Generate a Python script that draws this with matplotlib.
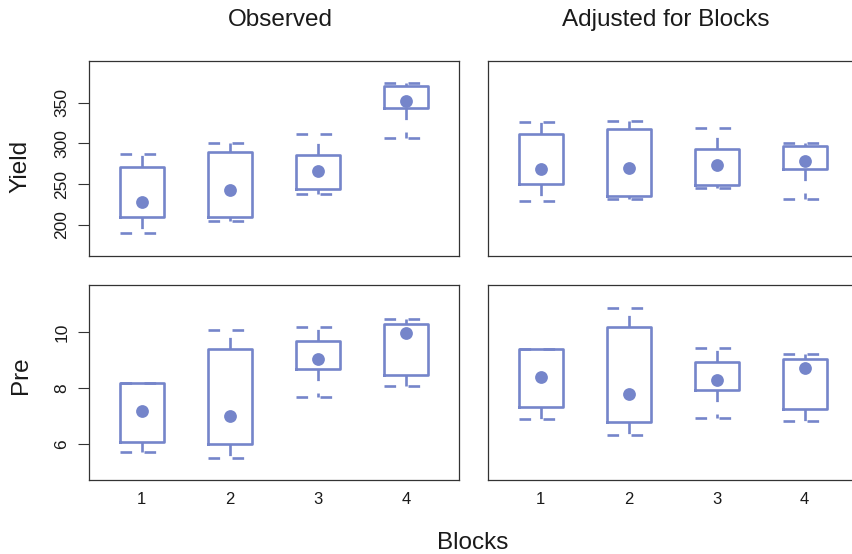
import matplotlib
matplotlib.use("Agg")
import matplotlib.pyplot as plt

plt.rcParams['font.family'] = ['Liberation Sans', 'DejaVu Sans']

W, H = 853, 554
blocks = [1, 2, 3, 4]
block_labels = ['1', '2', '3', '4']

# Yield, observed
yo_lo = [189.8, 205.3, 238.0, 306.3]
yo_q1 = [210.2, 210.2, 243.8, 343.1]
yo_med = [228.2, 242.9, 266.6, 352.1]
yo_q3 = [270.8, 289.5, 285.5, 370.5]
yo_hi = [286.7, 300.6, 311.6, 373.8]

# Yield, adjusted for blocks
ya_lo = [229.4, 232.3, 245.7, 232.3]
ya_q1 = [249.9, 235.6, 249.1, 269.0]
ya_med = [268.3, 270.3, 273.6, 278.1]
ya_q3 = [311.2, 317.4, 292.8, 296.5]
ya_hi = [326.7, 327.5, 318.6, 300.2]

# Pre, observed
po_lo = [5.69, 5.50, 7.69, 8.08]
po_q1 = [6.07, 5.99, 8.68, 8.47]
po_med = [7.18, 6.99, 9.04, 9.99]
po_q3 = [8.19, 9.39, 9.69, 10.30]
po_hi = [8.19, 10.08, 10.18, 10.48]

# Pre, adjusted for blocks
pa_lo = [6.90, 6.30, 6.93, 6.83]
pa_q1 = [7.31, 6.79, 7.93, 7.26]
pa_med = [8.39, 7.80, 8.29, 8.73]
pa_q3 = [9.39, 10.19, 8.93, 9.04]
pa_hi = [9.39, 10.88, 9.43, 9.23]

yield_ticks = [200, 250, 300, 350]
pre_ticks = [6, 8, 10]

COL = '#7585CA'
EDGE = '#333333'
LW = 1.9
DASH = (0, (4.4, 4.7))

fig = plt.figure(figsize=(W / 100, H / 100), dpi=100)

def px_ax(x0, y0, x1, y1):
    return fig.add_axes([x0 / W, 1 - y1 / H, (x1 - x0) / W, (y1 - y0) / H])

ax_tl = px_ax(89, 61, 459, 256)
ax_tr = px_ax(488, 61, 857.5, 256)
ax_bl = px_ax(89, 285, 459, 480.3)
ax_br = px_ax(488, 285, 857.5, 480.3)

def draw(ax, lo, q1, med, q3, hi):
    stats = []
    for i in range(len(blocks)):
        stats.append(dict(whislo=lo[i], q1=q1[i], med=med[i], q3=q3[i],
                          whishi=hi[i], fliers=[]))
    ax.bxp(stats, positions=blocks, widths=0.5, capwidths=0.5,
           showfliers=False, manage_ticks=False,
           boxprops=dict(color=COL, lw=LW),
           whiskerprops=dict(color=COL, lw=LW, linestyle=DASH,
                             dash_capstyle='butt'),
           capprops=dict(color=COL, lw=LW, linestyle=DASH,
                         dash_capstyle='butt'),
           medianprops=dict(visible=False))
    ax.plot(blocks, med, 'o', color=COL, ms=9.2, mew=0, zorder=5)
    ax.set_xlim(0.4, 4.6)
    for s in ax.spines.values():
        s.set_color(EDGE)
        s.set_linewidth(0.9)

draw(ax_tl, yo_lo, yo_q1, yo_med, yo_q3, yo_hi)
draw(ax_tr, ya_lo, ya_q1, ya_med, ya_q3, ya_hi)
draw(ax_bl, po_lo, po_q1, po_med, po_q3, po_hi)
draw(ax_br, pa_lo, pa_q1, pa_med, pa_q3, pa_hi)

for ax in (ax_tl, ax_tr):
    ax.set_ylim(162.0, 401.1)
for ax in (ax_bl, ax_br):
    ax.set_ylim(4.69, 11.70)

for ax in (ax_tl, ax_tr):
    ax.set_xticks([])
for ax in (ax_tr, ax_br):
    ax.set_yticks([])

ax_tl.set_yticks(yield_ticks)
ax_tl.set_yticklabels([str(t) for t in yield_ticks], rotation=90, va='center')
ax_bl.set_yticks(pre_ticks)
ax_bl.set_yticklabels([str(t) for t in pre_ticks], rotation=90, va='center')
for ax in (ax_tl, ax_bl):
    ax.tick_params(axis='y', length=8, width=0.8, color=EDGE, pad=6,
                   labelsize=12.5, labelcolor='#1a1a1a')

for ax in (ax_bl, ax_br):
    ax.set_xticks(blocks)
    ax.set_xticklabels(block_labels)
    ax.tick_params(axis='x', length=0, pad=8.5, labelsize=12,
                   labelcolor='#1a1a1a')

TS = 17.5
fig.text(280.5 / W, 1 - 26 / H, 'Observed', ha='center', va='baseline',
         fontsize=TS, color='#1a1a1a')
fig.text(665.8 / W, 1 - 26 / H, 'Adjusted for Blocks', ha='center',
         va='baseline', fontsize=TS, color='#1a1a1a')
fig.text(26.7 / W, 1 - 166 / H, 'Yield', ha='center', va='baseline',
         rotation=90, rotation_mode='anchor', fontsize=TS, color='#1a1a1a')
fig.text(26.7 / W, 1 - 375 / H, 'Pre', ha='center', va='baseline',
         rotation=90, rotation_mode='anchor', fontsize=TS, color='#1a1a1a')
fig.text(473 / W, 1 - 549 / H, 'Blocks', ha='center', va='baseline',
         fontsize=TS, color='#1a1a1a')

fig.savefig('out.png', dpi=100)
